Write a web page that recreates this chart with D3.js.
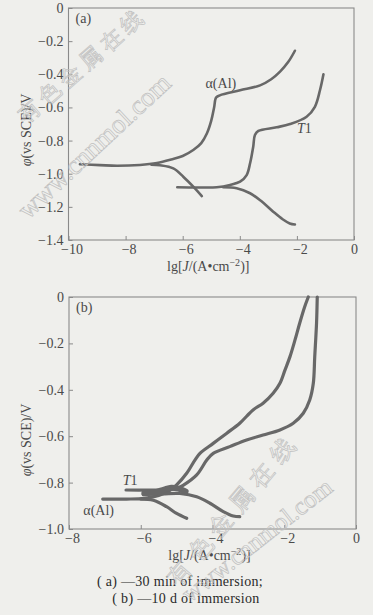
<!DOCTYPE html>
<meta charset="utf-8">
<script src="https://cdn.jsdelivr.net/npm/d3@7"></script>
<style>
    body { margin: 0; background: #efefec; }
    svg text { font-family: "Liberation Serif", "Times New Roman", serif; fill: #4a4a4a; }
</style>
<svg width="373" height="615" id="chart"></svg>
<script>

// panel (a): 30 min of immersion   [lg J, potential V]
var aAlMain = [[-9.6,-0.943],[-8.9,-0.948],[-8.3,-0.952],[-7.5,-0.947],[-6.9,-0.935],[-6.4,-0.914],[-6.0,-0.893],
    [-5.63,-0.857],[-5.35,-0.815],[-5.15,-0.756],[-5.0,-0.68],[-4.9,-0.60],[-4.83,-0.54],[-4.7,-0.527],
    [-3.99,-0.497],[-3.29,-0.467],[-2.9,-0.43],[-2.59,-0.384],[-2.3,-0.325],[-2.07,-0.258]];
var aAlCath = [[-7.1,-0.945],[-6.8,-0.949],[-6.33,-0.968],[-5.98,-1.018],[-5.63,-1.078],[-5.33,-1.135]];
var aT1Main = [[-6.19,-1.082],[-5.5,-1.083],[-4.81,-1.082],[-4.34,-1.068],[-3.99,-1.048],[-3.76,-1.008],
    [-3.64,-0.937],[-3.53,-0.837],[-3.47,-0.766],[-3.35,-0.742],[-2.71,-0.72],[-2.24,-0.70],[-1.66,-0.656],
    [-1.37,-0.596],[-1.19,-0.495],[-1.07,-0.40]];
var aT1Cath = [[-4.58,-1.082],[-4.11,-1.088],[-3.64,-1.118],[-3.25,-1.165],[-2.83,-1.229],[-2.5,-1.275],
    [-2.25,-1.300],[-2.07,-1.306]];

// panel (b): 10 d of immersion
var bAlMain = [[-7.06,-0.871],[-6.4,-0.871],[-5.9,-0.868],[-5.5,-0.855],[-5.2,-0.835],[-5.0,-0.81],[-4.72,-0.76],
    [-4.49,-0.703],[-4.35,-0.674],[-3.98,-0.631],[-3.61,-0.588],[-3.24,-0.544],[-2.87,-0.487],[-2.59,-0.458],
    [-2.31,-0.415],[-2.12,-0.372],[-1.98,-0.315],[-1.84,-0.257],[-1.70,-0.185],[-1.57,-0.113],[-1.43,-0.042],[-1.33,0]];
var bAlCath = [[-6.0,-0.871],[-5.65,-0.876],[-5.28,-0.904],[-5.0,-0.933],[-4.72,-0.954]];
var bT1Main = [[-6.41,-0.832],[-5.8,-0.832],[-5.2,-0.830],[-4.95,-0.822],[-4.82,-0.812],[-4.44,-0.767],[-4.16,-0.703],
    [-3.98,-0.674],[-3.52,-0.645],[-3.05,-0.616],[-2.59,-0.595],[-2.12,-0.573],[-1.75,-0.544],[-1.47,-0.501],
    [-1.29,-0.444],[-1.19,-0.372],[-1.15,-0.257],[-1.10,-0.113],[-1.08,0]];
var bT1Cath = [[-5.93,-0.850],[-5.4,-0.849],[-4.91,-0.847],[-4.44,-0.861],[-4.07,-0.889],[-3.70,-0.925],
    [-3.42,-0.944],[-3.24,-0.947]];
// dense, noisy scan where the branches overlap near the corrosion potential
var bCluster = [[-5.9,-0.846],[-5.6,-0.842],[-5.35,-0.830],[-5.15,-0.822],[-4.95,-0.826],[-4.75,-0.838]];

var aXTicks = [-10, -8, -6, -4, -2, 0];
var aYTicks = [0, -0.2, -0.4, -0.6, -0.8, -1.0, -1.2, -1.4];
var bXTicks = [-8, -6, -4, -2, 0];
var bYTicks = [0, -0.2, -0.4, -0.6, -0.8, -1.0];

var captions = ["( a) \u201430 min of immersion;", "( b) \u201410 d of immersion"];

var svg = d3.select("#chart");

function fmt(v, dec) {
    if (v === 0) return "0";
    var s = Math.abs(v).toFixed(dec);
    return (v < 0 ? "\u2212" : "") + s;
}

function panel(opt) {
    var x = d3.scaleLinear().domain(opt.xDomain).range([opt.left, opt.right]);
    var y = d3.scaleLinear().domain(opt.yDomain).range([opt.bottom, opt.top]);
    var g = svg.append("g");

    g.append("rect")
        .attr("x", opt.left).attr("y", opt.top)
        .attr("width", opt.right - opt.left).attr("height", opt.bottom - opt.top)
        .attr("fill", "none").attr("stroke", "#8a8a8a").attr("stroke-width", 1.1);

    var xAxis = g.append("g")
        .attr("transform", "translate(0," + opt.bottom + ")")
        .call(d3.axisBottom(x).tickValues(opt.xTicks).tickSize(-4).tickPadding(4)
            .tickFormat(function(d){ return fmt(d, 0); }));
    var yAxis = g.append("g")
        .attr("transform", "translate(" + opt.left + ",0)")
        .call(d3.axisLeft(y).tickValues(opt.yTicks).tickSize(-4).tickPadding(5)
            .tickFormat(function(d){ return fmt(d, 1); }));

    [xAxis, yAxis].forEach(function(a){
        a.select(".domain").remove();
        a.selectAll(".tick line").attr("stroke", "#8a8a8a");
        a.selectAll(".tick text").attr("font-size", 14).attr("fill", "#4a4a4a")
            .attr("font-family", "Liberation Serif, serif");
    });
    xAxis.selectAll(".tick text").attr("dx", function(d){ return d < 0 ? 3 : 0; });

    var line = d3.line()
        .x(function(d){ return x(d[0]); })
        .y(function(d){ return y(d[1]); })
        .curve(d3.curveCatmullRom.alpha(0.5));

    opt.series.forEach(function(s, i){
        g.append("path")
            .datum(s)
            .attr("fill", "none")
            .attr("stroke", "#686868")
            .attr("stroke-width", opt.widths ? opt.widths[i] : opt.lineWidth)
            .attr("stroke-linejoin", "round")
            .attr("stroke-linecap", "round")
            .attr("d", line);
    });

    // panel tag
    g.append("text").attr("x", opt.left + 7).attr("y", opt.top + 15)
        .attr("font-size", 14).text(opt.tag);

    // axis titles
    var xt = g.append("text")
        .attr("x", (opt.left + opt.right) / 2 - 3).attr("y", opt.bottom + 31)
        .attr("text-anchor", "middle").attr("font-size", 14);
    xt.append("tspan").text("lg[");
    xt.append("tspan").attr("font-style", "italic").text("J");
    xt.append("tspan").text("/(A\u2022cm");
    xt.append("tspan").attr("font-size", 10).attr("dy", -5).text("\u22122");
    xt.append("tspan").attr("dy", 5).text(")]");

    var yt = g.append("text")
        .attr("transform", "translate(" + (opt.left - 38) + "," + opt.yTitle + ") rotate(-90)")
        .attr("text-anchor", "middle").attr("font-size", 14);
    yt.append("tspan").attr("font-style", "italic").text("\u03c6");
    yt.append("tspan").text("(vs SCE)/V");

    opt.labels.forEach(function(l){
        var t = g.append("text").attr("x", x(l.x)).attr("y", y(l.y)).attr("font-size", 14);
        if (l.text === "T1") {
            t.append("tspan").attr("font-style", "italic").text("T");
            t.append("tspan").text("1");
        } else {
            t.text(l.text);
        }
    });
    return { x: x, y: y };
}

panel({
    xDomain: [-10, 0], yDomain: [-1.4, 0],
    left: 68.5, right: 354, top: 8, bottom: 240,
    xTicks: aXTicks, yTicks: aYTicks,
    series: [aAlMain, aAlCath, aT1Main, aT1Cath],
    lineWidth: 2.6, tag: "(a)", yTitle: 130,
    labels: [{x: -5.2, y: -0.48, text: "\u03b1(Al)"}, {x: -2.0, y: -0.755, text: "T1"}]
});

panel({
    xDomain: [-8, 0], yDomain: [-1.0, 0],
    left: 69, right: 356, top: 297, bottom: 529,
    xTicks: bXTicks, yTicks: bYTicks,
    series: [bAlMain, bAlCath, bT1Main, bT1Cath, bCluster],
    widths: [3.2, 3.2, 3.2, 3.2, 6],
    lineWidth: 3.2, tag: "(b)", yTitle: 440,
    labels: [{x: -6.5, y: -0.81, text: "T1"}, {x: -7.6, y: -0.94, text: "\u03b1(Al)"}]
});

svg.selectAll("text.cap")
    .data(captions)
    .enter().append("text")
    .attr("class", "cap")
    .attr("x", function(d, i){ return i ? 186 : 180; })
    .attr("y", function(d, i){ return 586 + i * 17; })
    .attr("text-anchor", "middle")
    .attr("font-size", 14)
    .attr("letter-spacing", 0.3)
    .style("fill", "#2a2a2a")
    .text(function(d){ return d; });

// faint site watermark over both panels
var wm = [
    {x: 26, y: 124, r: -41, size: 22, sp: 5, text: "\u6709\u8272\u91d1\u5c5e\u5728\u7ebf"},
    {x: 28, y: 220, r: -43, size: 27, sp: 0, text: "www.cnnmol.com"},
    {x: 178, y: 588, r: -50, size: 24, sp: 8, text: "\u6709\u8272\u91d1\u5c5e\u5728\u7ebf"},
    {x: 190, y: 603, r: -38, size: 25, sp: 0, text: "www.cnnmol.com"}
];
svg.selectAll("text.wm")
    .data(wm)
    .enter().append("text")
    .attr("class", "wm")
    .attr("transform", function(d){ return "translate(" + d.x + "," + d.y + ") rotate(" + d.r + ")"; })
    .attr("font-family", "Noto Sans CJK SC, DejaVu Sans, sans-serif")
    .attr("font-size", function(d){ return d.size; })
    .attr("letter-spacing", function(d){ return d.sp; })
    .style("fill", "none")
    .attr("stroke", "#c0c0c0")
    .attr("stroke-width", 0.7)
    .text(function(d){ return d.text; });

</script>
